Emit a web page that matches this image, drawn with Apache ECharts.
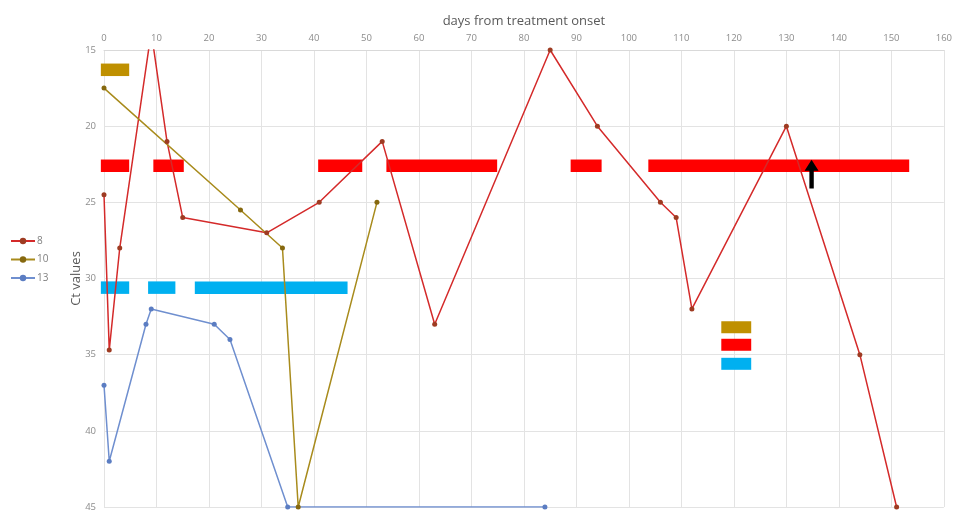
<!DOCTYPE html>
<html>
<head>
<meta charset="utf-8">
<script src="https://cdn.jsdelivr.net/npm/echarts@6/dist/echarts.min.js"></script>
<style>
html,body{margin:0;padding:0;background:#fff;}
#c{width:955px;height:512px;}
</style>
</head>
<body>
<div id="c"></div>
<script>
// ---- data ----
const xTicks = [0,10,20,30,40,50,60,70,80,90,100,110,120,130,140,150,160];
const yTicks = [15,20,25,30,35,40,45];
const seriesNames = ['8','10','13'];
// [day, Ct]
const red8 = [[0,24.5],[1,34.7],[3,28],[9,13.8],[12,21],[15,26],[31,27],[41,25],[53,21],[63,33],[85,15],[94,20],[106,25],[109,26],[112,32],[130,20],[144,35],[151,45]];
const olive10 = [[0,17.5],[26,25.5],[34,28],[37,45],[52,25]];
const blue13 = [[0,37],[1,42],[8,33],[9,32],[21,33],[24,34],[35,45],[84,45]];
// treatment periods [startDay, endDay, Ct level]
const oliveBars = [[-0.6,4.8,16.3]];
const redBars = [[-0.6,4.8,22.6],[9.4,15.2,22.6],[40.8,49.2,22.6],[53.8,74.9,22.6],[88.9,94.8,22.6],[103.7,153.4,22.6]];
const blueBars = [[-0.6,4.8,30.6],[8.4,13.6,30.6],[17.3,46.4,30.6]];
// key boxes [startDay, endDay, Ct level]
const keyBoxes = [[117.6,123.3,33.2],[117.6,123.3,34.35],[117.6,123.3,35.6]];
// arrow [day, tipCt, baseCt]
const arrow = [[134.8,22.2,24.1]];

const C = {
  red:'#d42a2a', redDot:'#9e3b22',
  olive:'#a88b1c', oliveDot:'#86680f',
  blue:'#6f8fcf', blueDot:'#5b7dc2',
  barOlive:'#bf9000', barRed:'#ff0000', barBlue:'#00b0f0'
};

function barSeries(data, color){
  return {
    type:'custom',
    silent:true,
    clip:false,
    data:data,
    renderItem:function(params, api){
      const a = api.coord([api.value(0), api.value(2)]);
      const b = api.coord([api.value(1), api.value(2)]);
      const h = 12.5;
      return {type:'rect', shape:{x:a[0], y:a[1]-h/2, width:b[0]-a[0], height:h}, style:{fill:color}};
    }
  };
}
const keyColors = [C.barOlive, C.barRed, C.barBlue];

const chart = echarts.init(document.getElementById('c'));
chart.setOption({
  animation:false,
  backgroundColor:'#fff',
  grid:{left:104, right:6, top:50, bottom:1.5, containLabel:false},
  legend:{
    orient:'vertical', left:5, top:231,
    itemWidth:24, itemHeight:8, itemGap:8.5,
    data:seriesNames,
    textStyle:{color:'#7f7f7f', fontSize:10, fontFamily:'Open Sans', padding:[0,0,0,-3]}
  },
  xAxis:{
    type:'value', position:'top', min:0, max:160, interval:10,
    name:'days from treatment onset', nameLocation:'middle', nameGap:22,
    nameMoveOverlap:false,
    nameTextStyle:{color:'#595959', fontSize:13, fontFamily:'Open Sans'},
    axisLine:{show:true, lineStyle:{color:'#d9d9d9'}},
    axisTick:{show:false},
    axisLabel:{color:'#8c8c8c', fontSize:9.5, margin:7, fontFamily:'Open Sans',
      formatter:function(v){return xTicks.indexOf(v)>=0 ? String(v) : '';}},
    splitLine:{show:true, lineStyle:{color:'#e3e3e3'}}
  },
  yAxis:{
    type:'value', inverse:true, min:15, max:45, interval:5,
    name:'Ct values', nameLocation:'middle', nameGap:21,
    nameMoveOverlap:false,
    nameTextStyle:{color:'#595959', fontSize:13, fontFamily:'Open Sans'},
    axisLine:{show:false},
    axisTick:{show:false},
    axisLabel:{color:'#8c8c8c', fontSize:9.5, margin:8, fontFamily:'Open Sans',
      formatter:function(v){return yTicks.indexOf(v)>=0 ? String(v) : '';}},
    splitLine:{show:true, lineStyle:{color:'#e3e3e3'}}
  },
  series:[
    barSeries(oliveBars, C.barOlive),
    barSeries(redBars, C.barRed),
    barSeries(blueBars, C.barBlue),
    {
      type:'custom', silent:true, clip:false, data:keyBoxes,
      renderItem:function(params, api){
        const a = api.coord([api.value(0), api.value(2)]);
        const b = api.coord([api.value(1), api.value(2)]);
        const h = 12;
        return {type:'rect', shape:{x:a[0], y:a[1]-h/2, width:b[0]-a[0], height:h}, style:{fill:keyColors[params.dataIndex]}};
      }
    },
    {
      name:'8', type:'line', data:red8, z:5,
      lineStyle:{color:C.red, width:1.5},
      itemStyle:{color:C.redDot},
      symbol:'circle', symbolSize:5
    },
    {
      name:'10', type:'line', data:olive10, z:5,
      lineStyle:{color:C.olive, width:1.5},
      itemStyle:{color:C.oliveDot},
      symbol:'circle', symbolSize:5
    },
    {
      name:'13', type:'line', data:blue13, z:5,
      lineStyle:{color:C.blue, width:1.5},
      itemStyle:{color:C.blueDot},
      symbol:'circle', symbolSize:5
    },
    {
      type:'custom', silent:true, clip:false, data:arrow, z:10,
      renderItem:function(params, api){
        const t = api.coord([api.value(0), api.value(1)]);
        const b = api.coord([api.value(0), api.value(2)]);
        const x = t[0], ty = t[1], by = b[1];
        const hw = 7, sw = 2.2, hh = 11;
        return {type:'polygon', shape:{points:[
          [x, ty], [x+hw, ty+hh], [x+sw, ty+hh], [x+sw, by], [x-sw, by], [x-sw, ty+hh], [x-hw, ty+hh]
        ]}, style:{fill:'#000'}};
      }
    }
  ]
});
</script>
</body>
</html>
